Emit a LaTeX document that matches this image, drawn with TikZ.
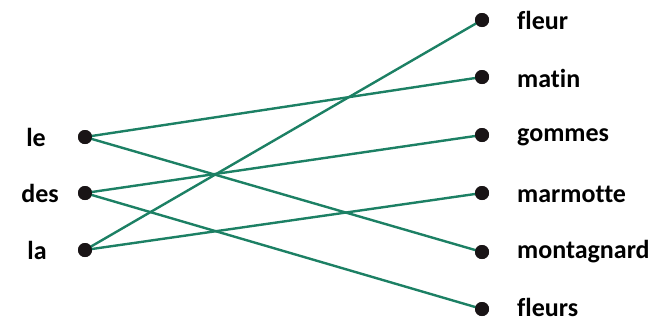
\documentclass[tikz,border=0pt]{standalone}
\usepackage{fontspec}
\setmainfont[Ligatures=NoCommon]{Carlito}
\definecolor{linkgreen}{RGB}{28,128,100}
\definecolor{dotblack}{RGB}{25,20,22}
\begin{document}
\begin{tikzpicture}[x=1pt,y=-1pt,
  dot/.style={circle,fill=dotblack,inner sep=0pt,minimum size=14pt},
  word/.style={font=\bfseries\fontsize{26}{28}\selectfont,text=black,inner sep=0pt},
  link/.style={linkgreen,line width=2.4pt}]
\useasboundingbox (0,0) rectangle (653,322);
% left
\node[dot] (le) at (85,137) {};
\node[dot] (des) at (85,193) {};
\node[dot] (la) at (85,250) {};
\node[word] (tle) at (36,137) {le};
\node[word] (tdes) at (40,193) {des};
\node[word] (tla) at (37,250) {la};
% right
\node[dot] (fleur) at (482,20) {};
\node[dot] (matin) at (482,77) {};
\node[dot] (gommes) at (482,135) {};
\node[dot] (marmotte) at (482,193) {};
\node[dot] (montagnard) at (482,252) {};
\node[dot] (fleurs) at (482,309) {};
\node[word,anchor=west] (tfleur) at (517,20) {fleur};
\node[word,anchor=west] (tmatin) at (517,78) {matin};
\node[word,anchor=west] (tgommes) at (517,137) {gommes};
\node[word,anchor=west] (tmarmotte) at (517,194) {marmotte};
\node[word,anchor=west] (tmontagnard) at (517,252) {montagnard};
\node[word,anchor=west] (tfleurs) at (517,307) {fleurs};
% links
\draw[link] (le.center) -- (matin.center);
\draw[link] (le.center) -- (montagnard.center);
\draw[link] (des.center) -- (gommes.center);
\draw[link] (des.center) -- (fleurs.center);
\draw[link] (la.center) -- (fleur.center);
\draw[link] (la.center) -- (marmotte.center);
% redraw dots on top
\foreach \n in {le,des,la,fleur,matin,gommes,marmotte,montagnard,fleurs}
  \fill[dotblack] (\n.center) circle (7pt);
\end{tikzpicture}
\end{document}
